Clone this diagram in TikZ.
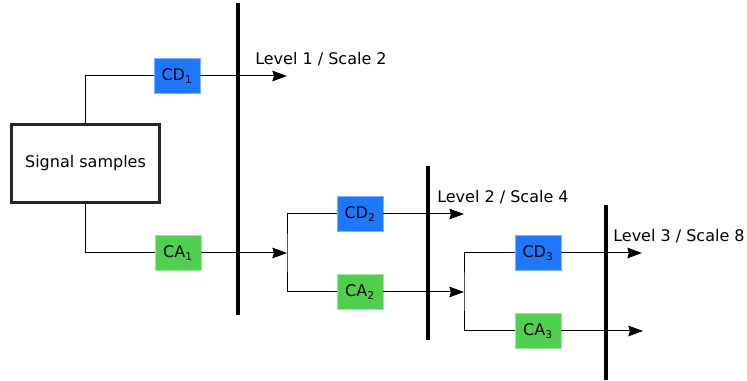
\documentclass[tikz,border=0pt]{standalone}
\usepackage{fontspec}
\setmainfont{DejaVu Sans}
\usetikzlibrary{arrows.meta}
\definecolor{cdblue}{HTML}{1E78FF}
\definecolor{cdblueb}{HTML}{7FB2FF}
\definecolor{cagreen}{HTML}{4ECF4E}
\definecolor{cagreenb}{HTML}{A0E6A0}
\tikzset{
  cdbox/.style={fill=cdblue,draw=cdblueb,line width=0.6pt,minimum width=34.5pt,minimum height=26.25pt,inner sep=0pt,font=\fontsize{12pt}{14pt}\selectfont},
  cabox/.style={fill=cagreen,draw=cagreenb,line width=0.6pt,minimum width=34.5pt,minimum height=26.25pt,inner sep=0pt,font=\fontsize{12pt}{14pt}\selectfont},
  sigbox/.style={draw=black!85,line width=2.4pt,minimum width=111pt,minimum height=58.5pt,inner sep=0pt,font=\fontsize{12pt}{14pt}\selectfont},
  conn/.style={line width=0.75pt},
  arr/.style={line width=0.75pt,-{Stealth[length=11pt,width=8pt,inset=1.2pt]}},
  bar/.style={line width=2.4pt},
  lvl/.style={anchor=base west,inner sep=0pt,font=\fontsize{12pt}{14pt}\selectfont}
}
\begin{document}
\begin{tikzpicture}[x=0.75pt,y=-0.75pt]
\useasboundingbox (0,0) rectangle (747,381);
% nodes
\node[sigbox] (s) at (85.5,163.5) {Signal samples};
\node[cdbox] (cd1) at (177,76) {CD\textsubscript{1}};
\node[cabox] (ca1) at (178,253) {CA\textsubscript{1}};
\node[cdbox] (cd2) at (360,214) {CD\textsubscript{2}};
\node[cabox] (ca2) at (360,292) {CA\textsubscript{2}};
\node[cdbox] (cd3) at (538,253) {CD\textsubscript{3}};
\node[cabox] (ca3) at (538,331) {CA\textsubscript{3}};
% coordinates
\coordinate (a1) at (287,76);
\coordinate (j1) at (287,253);
\coordinate (a2) at (464,214);
\coordinate (j2) at (464,292);
\coordinate (a3) at (642,253);
\coordinate (a4) at (643,331);
\coordinate (b1t) at (238,3);
\coordinate (b1b) at (238,315);
\coordinate (b2t) at (428,166);
\coordinate (b2b) at (428,340);
\coordinate (b3t) at (606,205);
\coordinate (b3b) at (606,380);
% connectors
\draw[conn] (s.north) |- (cd1.west);
\draw[conn] (s.south) |- (ca1.west);
\draw[arr] (cd1.east) -- (a1);
\draw[arr] (ca1.east) -- (j1);
\draw[conn] (cd2.west) -| (j1) |- (ca2.west);
\draw[arr] (cd2.east) -- (a2);
\draw[arr] (ca2.east) -- (j2);
\draw[conn] (cd3.west) -| (j2) |- (ca3.west);
\draw[arr] (cd3.east) -- (a3);
\draw[arr] (ca3.east) -- (a4);
% bars
\draw[bar] (b1t) -- (b1b);
\draw[bar] (b2t) -- (b2b);
\draw[bar] (b3t) -- (b3b);
% labels
\node[lvl] (l1) at (255,65) {Level 1 / Scale 2};
\node[lvl] (l2) at (437,203) {Level 2 / Scale 4};
\node[lvl] (l3) at (613,242) {Level 3 / Scale 8};
\end{tikzpicture}
\end{document}
